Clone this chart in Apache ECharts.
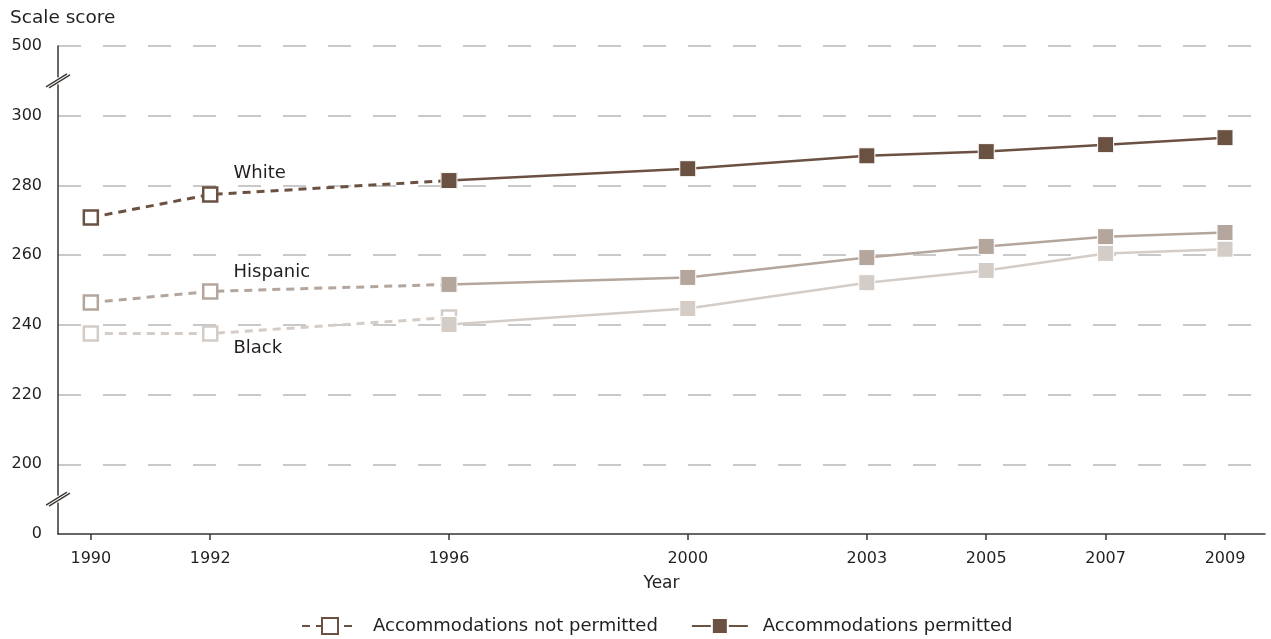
<!DOCTYPE html>
<html>
<head>
<meta charset="utf-8">
<script src="https://cdn.jsdelivr.net/npm/echarts@6/dist/echarts.min.js"></script>
<style>
html,body{margin:0;padding:0;background:#fff;}
#main{width:1271px;height:639px;}
</style>
</head>
<body>
<div id="main"></div>
<script>
// ---- data ----
const tickYears = [1990, 1992, 1996, 2000, 2003, 2005, 2007, 2009];
const notPermittedYears = [1990, 1992, 1996];
const permittedYears = [1996, 2000, 2003, 2005, 2007, 2009];

const whiteNotPermitted = [270.8, 277.4, 281.4];
const whitePermitted = [281.4, 284.8, 288.5, 289.7, 291.7, 293.7];
const hispanicNotPermitted = [246.4, 249.6, 251.6];
const hispanicPermitted = [251.6, 253.6, 259.3, 262.5, 265.3, 266.5];
const blackNotPermitted = [237.5, 237.5, 242.1];
const blackPermitted = [240.1, 244.7, 252.1, 255.6, 260.5, 261.7];

const groupNames = ['White', 'Hispanic', 'Black'];
const legendNames = ['Accommodations not permitted', 'Accommodations permitted'];
// y-axis tick labels (display value -> shown label), axis has breaks 0..200 and 300..500
const yTickLabels = {180: '0', 200: '200', 220: '220', 240: '240', 260: '260', 280: '280', 300: '300', 320: '500'};

const FONT = '"DejaVu Sans", sans-serif';
const TXT = '#231f20';
const AXIS = '#3a3530';
const colors = ['#6b5141', '#b4a69c', '#d4ccc7'];
const labelOffsets = [[10, -21], [10, -19], [10, 15]];

const npData = [whiteNotPermitted, hispanicNotPermitted, blackNotPermitted];
const pData = [whitePermitted, hispanicPermitted, blackPermitted];

const series = [];
groupNames.forEach((g, gi) => {
  series.push({
    name: legendNames[0],
    type: 'line',
    data: notPermittedYears.map((y, i) => [y, npData[gi][i]]),
    symbol: 'rect',
    symbolSize: 14,
    z: 2,
    lineStyle: {color: colors[gi], width: 3, type: [8, 6]},
    itemStyle: {color: '#fff', borderColor: colors[gi], borderWidth: 2.5},
    label: {
      show: true, position: 'right', offset: labelOffsets[gi],
      formatter: p => p.dataIndex === 1 ? g : '',
      fontFamily: FONT, fontSize: 18, color: TXT
    },
    emphasis: {disabled: true}
  });
});
groupNames.forEach((g, gi) => {
  series.push({
    name: legendNames[1],
    type: 'line',
    data: permittedYears.map((y, i) => [y, pData[gi][i]]),
    symbol: 'rect',
    symbolSize: 16,
    z: 3,
    lineStyle: {color: colors[gi], width: 2.5, type: 'solid'},
    itemStyle: {color: colors[gi], borderColor: '#fff', borderWidth: 1},
    emphasis: {disabled: true}
  });
});

const option = {
  animation: false,
  textStyle: {fontFamily: FONT, color: TXT},
  title: {
    text: 'Scale score', left: 5, top: 4,
    textStyle: {fontFamily: FONT, fontSize: 18.5, fontWeight: 'normal', color: TXT}
  },
  grid: {left: 58, right: 6, top: 46, bottom: 105, containLabel: false},
  legend: {
    data: legendNames,
    left: 296,
    top: 612,
    itemWidth: 56,
    itemHeight: 20,
    itemGap: 33,
    textStyle: {fontFamily: FONT, fontSize: 18, color: TXT, padding: [0, 0, 0, 10]}
  },
  xAxis: {
    type: 'value',
    min: 1989.45,
    max: 2009.67,
    name: 'Year',
    nameLocation: 'middle',
    nameGap: 41,
    nameTextStyle: {fontFamily: FONT, fontSize: 17, color: TXT},
    axisLine: {show: true, lineStyle: {color: AXIS, width: 1.5}},
    axisTick: {show: true, customValues: tickYears, length: 6, lineStyle: {color: AXIS, width: 1.5}},
    axisLabel: {customValues: tickYears, formatter: v => String(v), margin: 17, fontSize: 16, color: TXT, fontFamily: FONT},
    splitLine: {show: false}
  },
  yAxis: {
    type: 'value',
    min: 180,
    max: 320,
    interval: 20,
    axisLine: {show: true, lineStyle: {color: AXIS, width: 1.5}},
    axisTick: {show: false},
    axisLabel: {formatter: v => yTickLabels[v] !== undefined ? yTickLabels[v] : '', margin: 16, fontSize: 16, color: TXT, fontFamily: FONT},
    splitLine: {show: true, showMinLine: false, lineStyle: {color: '#b8b8b8', width: 1.5, type: [23, 22]}}
  },
  series: series
};

const chart = echarts.init(document.getElementById('main'), null, {renderer: 'canvas'});
chart.setOption(option);

// axis break marks
const breaks = [310, 190];
const gfx = [];
breaks.forEach(v => {
  const p = chart.convertToPixel({gridIndex: 0}, [option.xAxis.min, v]);
  const px = p[0], py = p[1];
  gfx.push({type: 'rect', shape: {x: px - 4, y: py - 3.5, width: 8, height: 7}, style: {fill: '#fff'}, z: 100});
  gfx.push({type: 'line', shape: {x1: px - 12, y1: py + 6, x2: px + 9, y2: py - 7}, style: {stroke: AXIS, lineWidth: 1.3}, z: 101});
  gfx.push({type: 'line', shape: {x1: px - 9, y1: py + 7, x2: px + 12, y2: py - 6}, style: {stroke: AXIS, lineWidth: 1.3}, z: 101});
});
chart.setOption({graphic: gfx});
</script>
</body>
</html>
